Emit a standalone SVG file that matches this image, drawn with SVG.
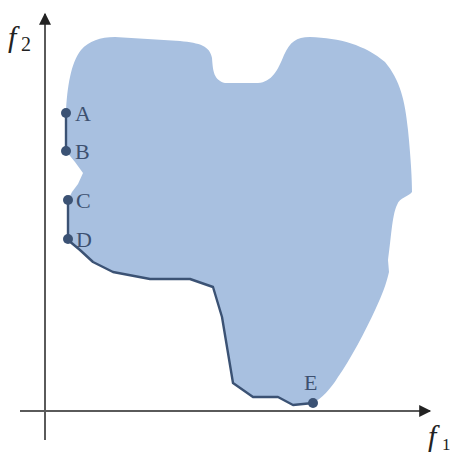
<svg xmlns="http://www.w3.org/2000/svg" width="456" height="456" viewBox="0 0 456 456">
<defs>
<marker id="arr" viewBox="0 0 10 10" refX="9" refY="5" markerWidth="6.5" markerHeight="6" orient="auto" markerUnits="strokeWidth">
<path d="M0,0 L10,5 L0,10 Z" fill="#222"/>
</marker>
<style>
.lbl{font-family:"Liberation Serif",serif;font-size:22px;fill:#3d5070}
.ax{stroke:#5a5a5a;stroke-width:2;fill:none}
.edge{stroke:#3b5274;stroke-width:2.4;fill:none;stroke-linejoin:round}
.dot{fill:#3b5274}
.axl{font-family:"Liberation Serif",serif;fill:#222}
</style>
</defs>
<rect width="456" height="456" fill="#fff"/>
<g id="region">
<path fill="#a8c0e0" d="M66,113 C67,88 71,62 81,50 C89,41 100,37 115,37 L180,41 C200,43 210,46 212,58 C213,72 214,80 225,83 L258,83 C272,82 278,70 284,55 C290,42 296,37 310,37 C340,38 365,45 385,62 C400,80 405,100 408,130 C411,160 412,180 412,192 C408,197 400,197 397,205 C392,215 391,240 388,260 L389,272 C386,285 382,295 376,308 C365,332 350,360 338,377 C330,390 322,398 313,403 L293,405 L278,397 L253,397 L233,383 L222,317 L213,287 L190,279 L150,279 L113,272 L93,262 L80,250 L68,240 L68,200 L72,192 L78,184 L83,173 L75,162 L66,151 Z"/>
</g>
<g id="axes">
<line class="ax" x1="45" y1="440" x2="45" y2="14" marker-end="url(#arr)"/>
<line class="ax" x1="20" y1="411" x2="430" y2="411" marker-end="url(#arr)"/>
<text class="axl" x="8" y="47" font-size="30" font-style="italic">f</text>
<text class="axl" x="21" y="51" font-size="20">2</text>
<text class="axl" x="428" y="446" font-size="30" font-style="italic">f</text>
<text class="axl" x="442" y="450" font-size="17">1</text>
</g>
<g id="connectors">
<line class="edge" x1="66" y1="113" x2="66" y2="151"/>
<polyline class="edge" points="68,200 68,240 80,250 93,262 113,272 150,279 190,279 213,287 222,317 233,383 253,397 278,397 293,405 313,403"/>
</g>
<g id="A"><circle class="dot" cx="66" cy="113" r="5"/><text class="lbl" x="75" y="121">A</text></g>
<g id="B"><circle class="dot" cx="66" cy="151" r="5"/><text class="lbl" x="75" y="159">B</text></g>
<g id="C"><circle class="dot" cx="68" cy="200" r="5"/><text class="lbl" x="76" y="208">C</text></g>
<g id="D"><circle class="dot" cx="68" cy="239" r="5"/><text class="lbl" x="76" y="247">D</text></g>
<g id="E"><circle class="dot" cx="313" cy="403" r="5"/><text class="lbl" x="304" y="390">E</text></g>
</svg>
